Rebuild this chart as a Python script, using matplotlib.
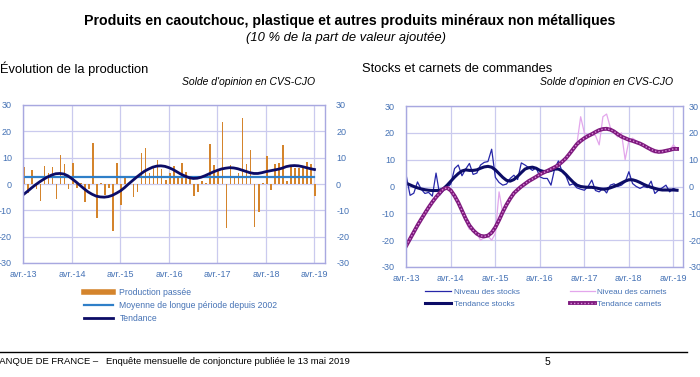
import matplotlib
matplotlib.use("Agg")
import matplotlib.pyplot as plt
from matplotlib.lines import Line2D
import numpy as np

plt.rcParams['font.family'] = ['Liberation Sans', 'DejaVu Sans']
plt.rcParams['axes.unicode_minus'] = False

# ---------------- donnees ----------------
annees = ['avr.-13', 'avr.-14', 'avr.-15', 'avr.-16', 'avr.-17', 'avr.-18', 'avr.-19']

# production passee (avr-13 .. avr-19, mensuel)
production = [6.3, -3.5, 5.3, -2.0, -6.3, 6.8, 4.3, 6.3, -5.8, 11.0, 7.6, -1.9,
              8.1, -1.5, 0.5, -7.0, -2.0, 15.4, -12.8, 0.3, -4.0, -1.5, -18.0, 8.0,
              -8.0, 3.0, 0.5, -5.0, -3.0, 11.6, 13.5, 4.0, 6.0, 9.0, 5.8, 1.5,
              4.3, 7.0, 3.0, 8.0, 4.7, 3.0, -4.5, -3.0, 1.0, 0.3, 15.2, 7.2,
              5.0, 23.4, -16.8, 7.2, 2.2, 4.0, 25.2, 7.6, 12.9, -16.3, -10.5, 0.3,
              10.6, -2.3, 7.6, 8.1, 14.8, 1.1, 6.8, 6.0, 6.0, 6.0, 8.5, 7.6, -4.5]
tendance_prod = [-4.0, -2.8, -1.5, -0.3, 0.8, 1.8, 2.7, 3.4, 3.9, 4.0, 3.8, 3.1,
                 2.0, 0.8, -0.5, -1.8, -3.0, -3.9, -4.6, -4.9, -5.0, -4.8, -4.3, -3.5,
                 -2.6, -1.4, 0.0, 1.3, 2.6, 3.8, 4.9, 5.7, 6.4, 6.8, 6.9, 6.7,
                 6.2, 5.5, 4.6, 3.7, 3.0, 2.4, 2.1, 2.2, 2.6, 3.2, 3.9, 4.6,
                 5.2, 5.7, 6.0, 6.2, 6.1, 5.8, 5.3, 4.8, 4.3, 4.0, 4.0, 4.3,
                 4.7, 5.0, 5.3, 5.6, 6.0, 6.6, 6.9, 7.0, 6.9, 6.6, 6.2, 5.8, 5.5]
moyenne_lp = 2.5
noms_gauche = ['Production passée', 'Moyenne de longue période depuis 2002', 'Tendance']

# stocks et carnets (avr-13 .. mai-19, mensuel)
niveau_stocks = [3.8, -3.3, -2.5, 1.7, -1.0, -2.6, -2.2, -3.6, 5.0, -3.2, -1.5, -0.5,
                 1.0, 6.7, 8.0, 4.0, 6.5, 8.6, 4.5, 5.0, 8.0, 9.0, 9.3, 13.9,
                 3.4, 1.5, 0.5, 0.9, 3.0, 4.2, 2.6, 8.8, 8.0, 7.0, 6.0, 7.0,
                 3.6, 3.0, 3.0, 0.5, 6.7, 9.5, 5.5, 4.0, 0.5, 1.0, -0.5, -1.0,
                 -1.4, 0.0, 2.4, -1.5, -2.0, -0.7, -2.4, 0.5, 1.0, 0.0, 0.5, 1.7,
                 5.5, 1.1, 0.0, -0.7, 0.0, -0.4, 2.0, -2.6, -1.4, -0.5, 0.5, -2.0,
                 -0.7, -1.4]
tendance_stocks = [1.2, 0.6, 0.0, -0.5, -0.9, -1.2, -1.4, -1.5, -1.5, -1.4, -0.8, 0.5,
                   2.0, 3.5, 4.8, 5.8, 6.2, 6.0, 6.0, 6.2, 6.8, 7.3, 7.5, 7.2,
                   6.2, 4.8, 3.4, 2.3, 2.0, 2.6, 3.8, 5.2, 6.5, 7.0, 7.2, 6.8,
                   6.0, 5.6, 5.6, 6.0, 6.5, 6.5, 5.8, 4.5, 3.0, 1.6, 0.5, 0.0,
                   -0.2, -0.3, -0.3, -0.5, -0.8, -1.0, -0.9, -0.5, 0.0, 0.6, 1.3, 2.0,
                   2.5, 2.5, 2.1, 1.5, 0.8, 0.2, -0.3, -0.7, -1.1, -1.3, -1.3, -1.3,
                   -1.3, -1.4]
niveau_carnets = [-22.0, -20.0, -17.5, -13.5, -12.5, -9.0, -8.0, -5.0, -3.5, -3.0, -1.0, 0.5,
                  -1.0, -4.0, -6.5, -9.5, -13.0, -16.0, -15.5, -17.5, -20.0, -19.0, -18.5, -20.0,
                  -17.5, -2.0, -10.0, -7.0, -4.0, -3.0, -0.5, 0.0, 1.5, 2.5, 2.5, 3.5,
                  5.0, 5.0, 6.0, 6.0, 7.5, 8.0, 9.5, 10.0, 12.5, 14.0, 16.0, 26.0,
                  20.0, 19.0, 19.5, 19.0, 15.5, 26.0, 27.0, 22.0, 20.0, 18.5, 20.0, 10.0,
                  17.0, 18.0, 17.0, 16.0, 15.0, 14.5, 13.0, 12.5, 13.0, 13.0, 13.5, 13.5,
                  15.5, 14.0]
tendance_carnets = [-22.0, -19.5, -17.0, -14.5, -12.2, -10.0, -7.8, -5.8, -4.0, -2.4, -0.9, -0.5,
                    -1.5, -3.5, -6.0, -9.0, -12.0, -14.5, -16.3, -17.6, -18.4, -18.6, -18.3, -17.2,
                    -15.2, -12.5, -9.5, -6.8, -4.5, -2.5, -1.2, 0.0, 1.0, 2.0, 2.8, 3.6,
                    4.5, 5.2, 5.8, 6.5, 7.2, 8.0, 9.2, 10.5, 12.2, 14.0, 15.8, 17.0,
                    18.0, 18.8, 19.5, 20.3, 21.0, 21.4, 21.5, 21.2, 20.5, 19.5, 18.6, 18.0,
                    17.4, 17.0, 16.5, 16.0, 15.3, 14.5, 13.8, 13.2, 12.9, 13.0, 13.3, 13.6,
                    14.0, 14.0]

# ---------------- couleurs ----------------
c_txt = '#4572B5'
c_grid = '#CACAEE'
c_spine = '#A8A8E0'
c_orange = '#D4842C'
c_moy = '#2F7FC8'
c_navy = '#0C0C66'
c_stock = '#2626A8'
c_pink = '#E3A6EC'
c_purple = '#7E1A7E'
c_dots = '#D98AD9'

W, H = 700, 377
fig = plt.figure(figsize=(W / 100, H / 100), dpi=100)


def box(x0, y0, x1, y1):
    return [x0 / W, 1 - y1 / H, (x1 - x0) / W, (y1 - y0) / H]


def txt(x, y, s, **kw):
    fig.text(x / W, 1 - y / H, s, **kw)


def habiller(ax, lpad, rpad):
    ax.set_ylim(-30, 30)
    ax.set_yticks([-30, -20, -10, 0, 10, 20, 30])
    ax.set_xticks([0, 12, 24, 36, 48, 60, 72])
    ax.set_xticklabels(annees)
    ax.grid(True, color=c_grid, lw=0.9)
    ax.set_axisbelow(True)
    for s in ax.spines.values():
        s.set_color(c_spine)
        s.set_linewidth(1.0)
    ax.tick_params(axis='both', length=0, labelsize=6.5, labelcolor=c_txt)
    ax.tick_params(axis='y', pad=lpad)
    ax.tick_params(axis='x', pad=5)
    ax2 = ax.twinx()
    ax2.set_ylim(-30, 30)
    ax2.set_yticks([-30, -20, -10, 0, 10, 20, 30])
    ax2.tick_params(axis='y', length=0, labelsize=6.5, labelcolor=c_txt, pad=rpad)
    for s in ax2.spines.values():
        s.set_visible(False)
    return ax2


# ---------------- titres ----------------
txt(350, 21, 'Produits en caoutchouc, plastique et autres produits minéraux non métalliques',
    ha='center', va='center', fontsize=10.2, fontweight='bold')
txt(346, 38, '(10 % de la part de valeur ajoutée)', ha='center', va='center',
    fontsize=9.4, style='italic')
txt(0, 69, 'Évolution de la production', ha='left', va='center', fontsize=9.3)
txt(315, 82, "Solde d'opinion en CVS-CJO", ha='right', va='center', fontsize=7.5, style='italic')
txt(362, 69, 'Stocks et carnets de commandes', ha='left', va='center', fontsize=9.3)
txt(673, 82, "Solde d'opinion en CVS-CJO", ha='right', va='center', fontsize=7.5, style='italic')

# ---------------- graphique gauche ----------------
ax1 = fig.add_axes(box(23, 105, 325, 263))
habiller(ax1, 8, 8)
mois_p = np.arange(len(production))
ax1.bar(mois_p + 0.2, production, width=0.4, color=c_orange)
ax1.plot([0, len(production) - 1], [moyenne_lp, moyenne_lp], color=c_moy, lw=1.6)
ax1.plot(np.arange(len(tendance_prod)), tendance_prod, color=c_navy, lw=2.0)
ax1.set_xlim(-0.1, 74.6)

h = [Line2D([], [], color=c_orange, lw=4), Line2D([], [], color=c_moy, lw=1.6),
     Line2D([], [], color=c_navy, lw=2.0)]
leg = fig.legend(h, noms_gauche, loc='upper left', bbox_to_anchor=(84 / W, 1 - 288 / H),
                 frameon=False, fontsize=6.2, handlelength=3.4, handletextpad=0.7,
                 labelspacing=0.45, borderpad=0, borderaxespad=0)
for t in leg.get_texts():
    t.set_color(c_txt)

# ---------------- graphique droit ----------------
ax3 = fig.add_axes(box(406, 106, 683, 267))
habiller(ax3, 8, 4)
mois_s = np.arange(len(niveau_stocks))
ax3.plot(mois_s, niveau_stocks, color=c_stock, lw=0.9)
ax3.plot(mois_s, niveau_carnets, color=c_pink, lw=0.9)
ax3.plot(mois_s, tendance_stocks, color=c_navy, lw=2.2)
ax3.plot(mois_s, tendance_carnets, color=c_purple, lw=2.8)
ax3.plot(mois_s, tendance_carnets, color=c_dots, lw=1.0, ls=(0, (1, 1.5)))
ax3.set_xlim(-0.1, 74.6)

h_tc = Line2D([], [], color=c_purple, lw=2.8)
h_tc2 = Line2D([], [], color=c_dots, lw=1.0, ls=(0, (1, 1.5)))
leg2 = fig.legend([Line2D([], [], color=c_stock, lw=0.9), Line2D([], [], color=c_navy, lw=2.2)],
                  ['Niveau des stocks', 'Tendance stocks'],
                  loc='upper left', bbox_to_anchor=(425 / W, 1 - 288 / H), frameon=False,
                  fontsize=5.9, handlelength=3.2, handletextpad=0.3, labelspacing=0.55,
                  borderpad=0, borderaxespad=0)
leg3 = fig.legend([Line2D([], [], color=c_pink, lw=0.9), (h_tc, h_tc2)],
                  ['Niveau des carnets', 'Tendance carnets'],
                  loc='upper left', bbox_to_anchor=(570 / W, 1 - 288 / H), frameon=False,
                  fontsize=5.9, handlelength=3.0, handletextpad=0.3, labelspacing=0.55,
                  borderpad=0, borderaxespad=0)
for lg in (leg2, leg3):
    for t in lg.get_texts():
        t.set_color(c_txt)

# ---------------- pied de page ----------------
fig.add_artist(Line2D([0, 687 / W], [1 - 352 / H, 1 - 352 / H], color='black', lw=1.0))
txt(-7, 362, 'BANQUE DE FRANCE –   Enquête mensuelle de conjoncture publiée le 13 mai 2019',
    ha='left', va='center', fontsize=6.8)
txt(547, 362, '5', ha='center', va='center', fontsize=7.5)

fig.savefig('out.png', dpi=100)
